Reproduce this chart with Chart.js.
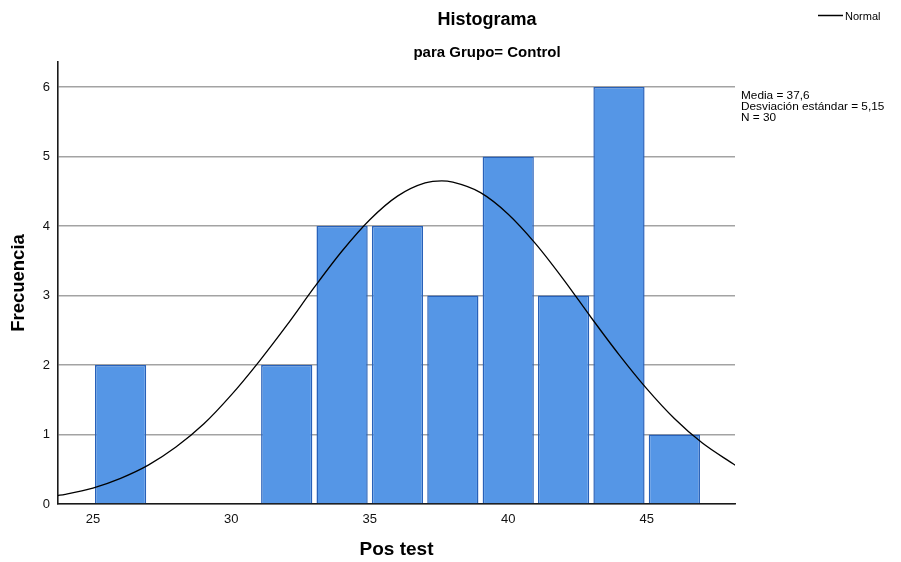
<!DOCTYPE html>
<html>
<head>
<meta charset="utf-8">
<script src="https://cdn.jsdelivr.net/npm/chart.js@4.4.1/dist/chart.umd.min.js"></script>
<style>
  html, body { margin: 0; padding: 0; background: #ffffff; }
  #wrap { width: 901px; height: 562px; }
</style>
</head>
<body>
<div id="wrap"><canvas id="hist" width="901" height="562"></canvas></div>
<script>
// Histogram bins (width 2) for the Pos test score, group Control
const binCenters = [26, 28, 30, 32, 34, 36, 38, 40, 42, 44, 46];
const frequencies = [2, 0, 0, 2, 4, 4, 3, 5, 3, 6, 1];

// Fitted normal curve, sampled along the score axis
const curveX = [23.7, 24, 25, 26, 27, 28, 29, 30, 31, 32, 33, 34, 35, 36, 37, 37.6, 38, 39, 40, 41, 42, 43, 44, 45, 46, 47, 48, 48.2];
const curveY = [0.12, 0.14, 0.23, 0.37, 0.56, 0.82, 1.15, 1.57, 2.05, 2.57, 3.12, 3.64, 4.09, 4.43, 4.62, 4.65, 4.63, 4.48, 4.17, 3.74, 3.23, 2.68, 2.15, 1.66, 1.23, 0.88, 0.61, 0.56];

// Axis ticks
const xTicks = [25, 30, 35, 40, 45];
const yTicks = [0, 1, 2, 3, 4, 5, 6];

// Summary statistics
const statMean = 37.6;
const statSd = 5.15;
const statN = 30;

const FONT = "'Liberation Sans', Arial, Helvetica, sans-serif";

const fmt = (v, d) => v.toFixed(d).replace('.', ',');

const headerPlugin = {
  id: 'header',
  afterDraw(chart) {
    const ctx = chart.ctx;
    ctx.save();
    ctx.fillStyle = '#000';
    ctx.textAlign = 'center';
    ctx.textBaseline = 'alphabetic';
    ctx.font = 'bold 18px ' + FONT;
    ctx.fillText('Histograma', 487, 25);
    ctx.font = 'bold 15px ' + FONT;
    ctx.fillText('para Grupo= Control', 487, 57);

    // legend entry for the normal curve
    ctx.strokeStyle = '#000';
    ctx.lineWidth = 1.5;
    ctx.beginPath();
    ctx.moveTo(818, 15.5);
    ctx.lineTo(843, 15.5);
    ctx.stroke();
    ctx.textAlign = 'left';
    ctx.font = '11px ' + FONT;
    ctx.fillText('Normal', 845, 19.5);

    // statistics block
    const lines = [
      'Media = ' + fmt(statMean, 1),
      'Desviación estándar = ' + fmt(statSd, 2),
      'N = ' + statN
    ];
    ctx.font = '11.8px ' + FONT;
    lines.forEach((t, i) => ctx.fillText(t, 741, 99 + i * 11));
    ctx.restore();
  }
};

new Chart(document.getElementById('hist'), {
  type: 'bar',
  data: {
    datasets: [
      {
        type: 'line',
        label: 'Normal',
        data: curveX.map((x, i) => ({ x: x, y: curveY[i] })),
        borderColor: '#000',
        borderWidth: 1.3,
        pointRadius: 0,
        fill: false,
        cubicInterpolationMode: 'monotone',
        order: 0
      },
      {
        type: 'bar',
        label: 'Frecuencia',
        data: binCenters.map((x, i) => ({ x: x, y: frequencies[i] })),
        backgroundColor: '#5596e6',
        borderColor: '#2861b9',
        borderWidth: 1.5,
        categoryPercentage: 1.0,
        barPercentage: 0.925,
        order: 1
      }
    ]
  },
  options: {
    responsive: false,
    animation: false,
    devicePixelRatio: 1,
    layout: { padding: { left: 0, right: 166, top: 62, bottom: 0 } },
    plugins: {
      legend: { display: false },
      tooltip: { enabled: false },
      title: { display: false }
    },
    scales: {
      x: {
        type: 'linear',
        offset: false,
        min: 23.74,
        max: 48.19,
        afterFit(s) { s.height = 58; },
        afterBuildTicks(s) { s.ticks = xTicks.map(v => ({ value: v })); },
        grid: { display: false, drawTicks: false, offset: false },
        border: { display: true, color: '#1a1a1a', width: 1.6 },
        ticks: {
          padding: 8,
          color: '#111',
          font: { family: FONT, size: 13 },
          maxRotation: 0
        },
        title: {
          display: true,
          text: 'Pos test',
          color: '#000',
          font: { family: FONT, size: 19, weight: 'bold' },
          padding: { top: 0, bottom: 1 }
        }
      },
      y: {
        min: 0,
        max: 6.36,
        afterFit(s) { s.width = 58; },
        afterBuildTicks(s) { s.ticks = yTicks.map(v => ({ value: v })); },
        grid: { color: '#a3a3a3', lineWidth: 1.5, drawTicks: false },
        border: { display: true, color: '#1a1a1a', width: 1.6 },
        ticks: {
          padding: 8,
          color: '#111',
          font: { family: FONT, size: 13 }
        },
        title: {
          display: true,
          text: 'Frecuencia',
          color: '#000',
          font: { family: FONT, size: 18.5, weight: 'bold' },
          padding: { top: 8, bottom: 0 }
        }
      }
    }
  },
  plugins: [headerPlugin]
});
</script>
</body>
</html>
